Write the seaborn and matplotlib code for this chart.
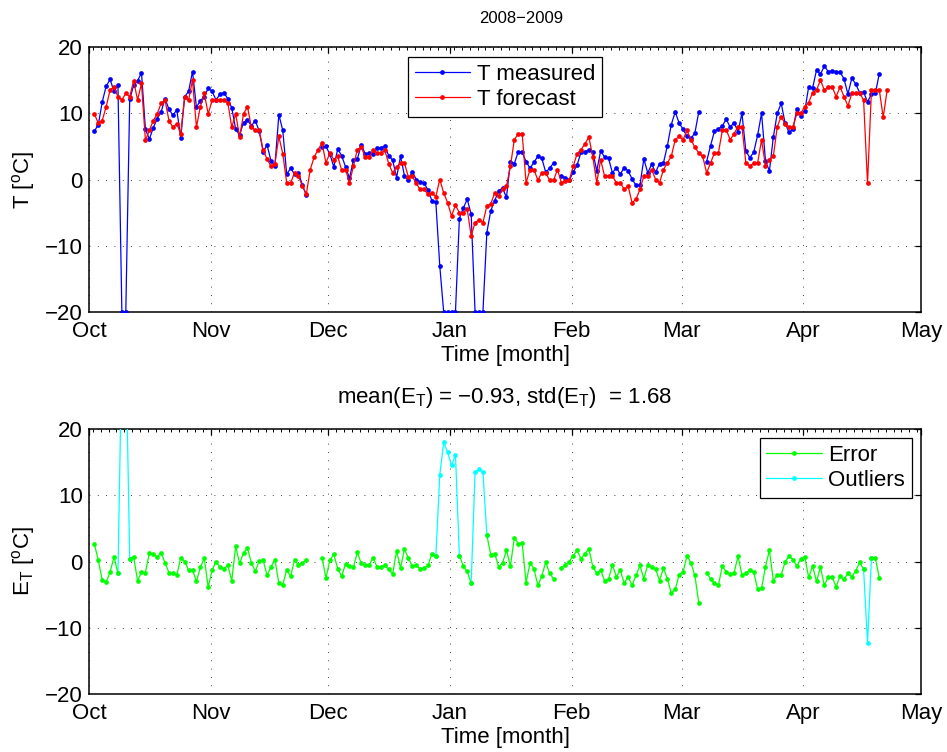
import numpy as np
import pandas as pd
import matplotlib
matplotlib.use("Agg")
import matplotlib.pyplot as plt
from matplotlib.ticker import MultipleLocator
from matplotlib.lines import Line2D
import seaborn as sns

nan = np.nan

# daily observations, first sample on 2 Oct 2008 (09:00)
start = "2008-10-02 09:00"

t_forecast = [
    9.9, 8.5, 8.9, 11.0, 13.5, 14.0, 12.5, 12.0, 13.0, 12.5,
    14.9, 12.0, 14.5, 5.9, 7.4, 8.9, 9.9, 11.5, 12.0, 8.9,
    7.9, 8.4, 6.9, 12.5, 12.0, 15.0, 7.9, 11.0, 13.0, 9.9,
    12.0, 12.0, 12.0, 12.0, 11.6, 7.9, 9.9, 6.4, 9.9, 11.0,
    7.9, 7.4, 7.4, 4.4, 3.1, 2.0, 2.4, 6.5, 3.9, -0.5,
    -0.5, 1.0, 0.5, -1.0, -2.2, 1.5, 3.4, 4.5, 5.5, 2.5,
    4.0, 3.0, 3.5, 1.4, 1.5, -0.5, 2.0, 4.5, 4.9, 3.4,
    3.4, 4.4, 4.0, 4.0, 4.4, 2.4, 1.0, 1.9, 2.5, 2.5,
    0.4, 0.5, -0.6, -1.5, -1.5, -2.2, -2.0, -2.6, 0.0, -2.0,
    -3.5, -5.5, -3.9, -5.0, -5.0, -4.5, -8.5, -6.5, -6.1, -6.5,
    -4.0, -3.7, -2.0, -2.5, -1.5, -1.0, 2.0, 6.0, 6.9, 6.9,
    -0.5, 1.5, 1.5, -0.1, 1.0, 1.0, -0.1, -0.1, 1.5, -0.5,
    -0.2, -0.1, 2.0, 3.9, 4.5, 5.4, 6.4, 3.4, -0.5, 3.0,
    0.5, 0.5, 0.5, -0.5, -0.5, -1.5, -1.0, -3.5, -3.0, -1.5,
    0.5, 0.5, 1.5, 0.0, -0.5, 1.5, 2.5, 3.5, 6.0, 6.5,
    6.0, 7.4, 6.0, 4.9, 4.0, 3.5, 1.0, 2.5, 4.0, 4.0,
    7.4, 7.5, 6.0, 6.9, 8.0, 8.0, 2.5, 2.0, 2.5, 2.5,
    6.0, 2.0, 3.0, 3.5, 8.0, 9.5, 8.4, 7.9, 7.9, 10.0,
    10.0, 11.0, 11.6, 13.1, 13.5, 15.0, 13.5, 14.0, 14.0, 12.5,
    14.0, 12.5, 11.1, 13.0, 13.0, 13.0, 12.0, -0.6, 13.5, 13.5,
    13.5, 9.4, 13.5,
]

t_measured = [
    7.3, 8.3, 11.7, 14.1, 15.1, 13.3, 14.3, -20.0, -20.0, 12.1,
    14.2, 14.9, 16.1, 7.6, 6.1, 7.8, 9.2, 10.2, 12.2, 10.6,
    9.7, 10.5, 6.3, 12.5, 13.3, 16.3, 10.9, 11.9, 12.5, 13.8,
    13.3, 12.0, 12.9, 13.1, 12.2, 10.8, 7.6, 6.7, 8.6, 9.0,
    8.1, 8.9, 7.3, 4.2, 5.2, 2.8, 2.1, 9.8, 7.4, 0.8,
    1.7, 0.8, 1.0, -0.8, -2.4, nan, nan, nan, 4.9, 5.0,
    3.8, 1.9, 4.6, 3.6, 1.9, 0.2, 2.9, 3.1, 5.2, 3.9,
    4.0, 3.8, 4.8, 4.8, 5.0, 3.6, 2.9, 0.3, 3.5, 0.6,
    -0.1, 1.2, 0.0, -0.4, -0.5, -1.6, -3.2, -3.4, -13.0, -20.0,
    -20.0, -20.0, -20.0, -5.9, -4.3, -3.0, -5.2, -20.0, -20.0, -20.0,
    -8.0, -4.7, -3.2, -1.7, -1.3, -2.7, 2.7, 2.4, 4.2, 4.1,
    2.7, 1.7, 2.6, 3.5, 3.2, 1.1, 1.7, 2.5, nan, 0.5,
    0.3, -0.1, 1.1, 2.2, 4.1, 4.2, 4.5, 4.2, 1.3, 4.3,
    3.4, 3.2, 1.0, 1.8, 0.8, 1.8, 1.3, 0.1, -0.9, -0.9,
    3.1, 1.0, 2.3, 1.1, 2.4, 2.5, 5.1, 8.3, 10.2, 8.5,
    7.6, 6.5, 6.2, 7.0, 10.2, nan, 2.7, 5.1, 7.3, 7.6,
    8.1, 9.1, 7.9, 8.6, 7.2, 10.0, 4.3, 3.3, 4.1, 6.7,
    10.0, 2.8, 1.3, 6.4, 10.0, 11.5, 8.5, 7.1, 7.6, 10.7,
    9.6, 10.3, 14.0, 13.8, 16.5, 15.9, 17.1, 16.3, 16.4, 16.3,
    16.2, 15.2, 12.9, 15.3, 14.4, 13.1, 13.2, 11.7, 12.9, 13.0,
    16.0, nan, nan,
]

# forecast error E_T = forecast - measured
t_error = [
    2.6, 0.2, -2.8, -3.1, -1.6, 0.7, -1.8, 32.0, 33.0, 0.4,
    0.7, -2.9, -1.6, -1.7, 1.3, 1.1, 0.7, 1.3, -0.2, -1.7,
    -1.8, -2.1, 0.6, 0.0, -1.3, -1.3, -3.0, -0.9, 0.5, -3.9,
    -1.3, 0.0, -0.9, -1.1, -0.6, -2.9, 2.3, -0.3, 1.3, 2.0,
    -0.2, -1.5, 0.1, 0.2, -2.1, -0.8, 0.3, -3.3, -3.5, -1.3,
    -2.2, 0.2, -0.5, -0.2, 0.2, nan, nan, nan, 0.6, -2.5,
    0.2, 1.1, -1.1, -2.2, -0.4, -0.7, -0.9, 1.4, -0.3, -0.5,
    -0.6, 0.6, -0.8, -0.8, -0.6, -1.2, -1.9, 1.6, -1.0, 1.9,
    0.5, -0.7, -0.6, -1.1, -1.0, -0.6, 1.2, 0.8, 13.0, 18.0,
    16.5, 14.5, 16.1, 0.9, -0.7, -1.5, -3.3, 13.5, 13.9, 13.5,
    4.0, 1.0, 1.2, -0.8, -0.2, 1.7, -0.7, 3.6, 2.7, 2.8,
    -3.2, -0.2, -1.1, -3.6, -2.2, -0.1, -1.8, -2.6, nan, -1.0,
    -0.5, 0.0, 0.9, 1.7, 0.4, 1.2, 1.9, -0.8, -1.8, -1.3,
    -2.9, -2.7, -0.5, -2.3, -1.3, -3.3, -2.3, -3.6, -2.1, -0.6,
    -2.6, -0.5, -0.8, -1.1, -2.9, -1.0, -2.6, -4.8, -4.2, -2.0,
    -1.6, 0.9, -0.2, -2.1, -6.2, nan, -1.7, -2.6, -3.3, -3.6,
    -0.7, -1.6, -1.9, -1.7, 0.8, -2.0, -1.8, -1.3, -1.6, -4.2,
    -4.0, -0.8, 1.7, -2.9, -2.0, -2.0, -0.1, 0.8, 0.3, -0.7,
    0.4, 0.7, -2.4, -0.7, -3.0, -0.9, -3.6, -2.3, -2.4, -3.8,
    -2.2, -2.7, -1.8, -2.3, -1.4, -0.1, -1.2, -12.3, 0.6, 0.5,
    -2.5, nan, nan,
]

month_labels = ["Oct", "Nov", "Dec", "Jan", "Feb", "Mar", "Apr", "May"]
month_starts = pd.date_range("2008-10-01", "2009-05-01", freq="MS")

title_top = "2008\u22122009"
title_bottom = "mean(E$_\\mathrm{T}$) = \u22120.93, std(E$_\\mathrm{T}$)  = 1.68"
ylabel_top = "T [$^\\mathrm{o}$C]"
ylabel_bottom = "E$_\\mathrm{T}$ [$^\\mathrm{o}$C]"
xlabel = "Time [month]"

FS = 16

sns.set_style("white")
plt.rcParams.update({
    "font.family": ["Liberation Sans", "DejaVu Sans"],
    "font.size": FS,
    "mathtext.fontset": "custom",
    "mathtext.rm": "Liberation Sans",
    "mathtext.it": "Liberation Sans:italic",
    "mathtext.bf": "Liberation Sans:bold",
    "axes.edgecolor": "black",
    "axes.linewidth": 1.1,
    "axes.labelcolor": "black",
    "text.color": "black",
    "xtick.color": "black",
    "ytick.color": "black",
    "xtick.direction": "in",
    "ytick.direction": "in",
    "xtick.top": True,
    "ytick.right": True,
    "xtick.major.size": 4.5,
    "ytick.major.size": 4.5,
    "xtick.minor.size": 2.0,
    "xtick.major.width": 0.9,
    "ytick.major.width": 0.9,
    "xtick.minor.width": 0.7,
    "xtick.major.pad": 6.5,
    "ytick.major.pad": 4.5,
})

df = pd.DataFrame({
    "date": pd.date_range(start, periods=len(t_forecast), freq="D"),
    "measured": t_measured,
    "forecast": t_forecast,
    "error": t_error,
})

outlier = df["error"].abs() > 10
near = outlier | outlier.shift(1, fill_value=False) | outlier.shift(-1, fill_value=False)
df["error_ok"] = df["error"].where(~outlier)
df["error_out"] = df["error"].where(near)


def segments(frame, col):
    part = frame[["date", col]].copy()
    part["seg"] = part[col].isna().cumsum()
    return part.dropna(subset=[col])


def draw(ax, col, color, z):
    sns.lineplot(data=segments(df, col), x="date", y=col, units="seg",
                 estimator=None, color=color, linewidth=0.9, marker="o",
                 markersize=3.4, markeredgewidth=0, legend=False, ax=ax,
                 zorder=z)


def style_axes(ax):
    ax.set_xlim(month_starts[0], month_starts[-1])
    ax.set_ylim(-20, 20)
    ax.set_yticks([-20, -10, 0, 10, 20])
    ax.set_xticks(month_starts)
    ax.set_xticklabels(month_labels)
    ax.xaxis.set_minor_locator(MultipleLocator(2))
    ax.grid(True, which="major", color="black", linewidth=0.6,
            linestyle=(0, (1, 9)))
    for sp in ax.spines.values():
        sp.set_visible(True)
        sp.set_color("black")
    ax.set_xlabel(xlabel, labelpad=2)


def make_legend(ax, handles, labels, **pos):
    leg = ax.legend(handles, labels, borderaxespad=0, frameon=True,
                    fancybox=False, edgecolor="black", framealpha=1,
                    handlelength=2.5, handletextpad=0.3, labelspacing=0.2,
                    borderpad=0.3, fontsize=FS, **pos)
    leg.get_frame().set_linewidth(0.9)
    return leg


def handle(color):
    return Line2D([], [], color=color, lw=0.9, marker="o", ms=3.4, mew=0)


fig = plt.figure(figsize=(9.47, 7.52), dpi=100)
ax1 = fig.add_axes([89 / 947, 1 - 312 / 752, 832 / 947, 265 / 752])
ax2 = fig.add_axes([89 / 947, 1 - 694 / 752, 832 / 947, 265 / 752])

# temperatures
draw(ax1, "measured", (0, 0, 1), 3)
draw(ax1, "forecast", (1, 0, 0), 4)
style_axes(ax1)
ax1.set_ylabel(ylabel_top, labelpad=6)
ax1.set_title(title_top, pad=17, fontsize=12, x=0.52)
make_legend(ax1, [handle((0, 0, 1)), handle((1, 0, 0))],
            ["T measured", "T forecast"],
            loc="upper center", bbox_to_anchor=(0.5, 0.962))

# forecast error with outliers highlighted
draw(ax2, "error_out", (0, 1, 1), 3)
draw(ax2, "error_ok", (0, 1, 0), 4)
style_axes(ax2)
ax2.set_ylabel(ylabel_bottom, labelpad=6)
ax2.set_title(title_bottom, pad=19, fontsize=FS)
make_legend(ax2, [handle((0, 1, 0)), handle((0, 1, 1))],
            ["Error", "Outliers"],
            loc="upper right", bbox_to_anchor=(0.989, 0.966))

fig.savefig("out.png", dpi=100)
